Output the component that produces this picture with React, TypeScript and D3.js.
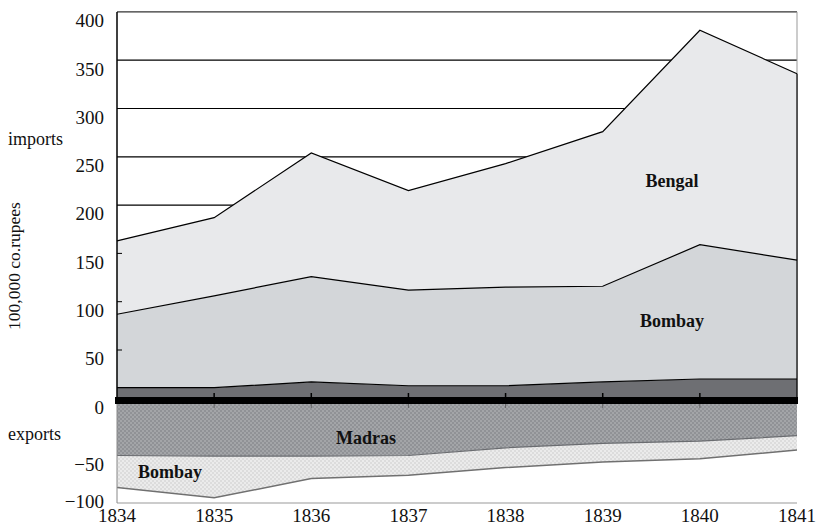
import React from "react";
import * as d3 from "d3";

const years = [1834, 1835, 1836, 1837, 1838, 1839, 1840, 1841];
const importMadras = [11, 11, 17, 13, 13, 17, 20, 20];
const importBombay = [76, 95, 109, 99, 102, 99, 139, 123];
const importBengal = [76, 81, 128, 103, 128, 160, 222, 193];
const exportMadras = [50, 50.5, 50.5, 50, 43, 39, 37, 32];
const exportBombay = [29, 38, 20.5, 18, 18, 17, 16, 13];
const importTicks = [0, 50, 100, 150, 200, 250, 300, 350, 400];
const gridTicks = [200, 250, 300, 350];
const exportTicks = [0, -50, -100];

const W = 818;
const H = 527;
const L = 117;
const R = 797;

export default function App() {
  const x = d3.scaleLinear().domain([1834, 1841]).range([L, R]);
  const yI = d3.scaleLinear().domain([0, 400]).range([398.3, 11.9]);
  const yE = d3.scaleLinear().domain([0, -100]).range([400.5, 510.5]);

  const rows = years.map((yr, i) => ({
    year: yr,
    madras: importMadras[i],
    bombay: importBombay[i],
    bengal: importBengal[i],
  }));
  const stack = d3.stack<any>().keys(["madras", "bombay", "bengal"]);
  const series = stack(rows);
  const area = d3
    .area<any>()
    .x((d) => x(d.data.year))
    .y0((d) => yI(d[0]))
    .y1((d) => yI(d[1]));
  const topLine = d3
    .line<any>()
    .x((d) => x(d.data.year))
    .y((d) => yI(d[1]));
  const fills = ["#6e6f73", "#d3d6d9", "#e8e9eb"];

  const expRows = years.map((yr, i) => ({
    year: yr,
    m: exportMadras[i],
    b: exportMadras[i] + exportBombay[i],
  }));
  const areaEM = d3
    .area<any>()
    .x((d) => x(d.year))
    .y0(() => yE(0))
    .y1((d) => yE(-d.m));
  const areaEB = d3
    .area<any>()
    .x((d) => x(d.year))
    .y0((d) => yE(-d.m))
    .y1((d) => yE(-d.b));
  const lineEM = d3
    .line<any>()
    .x((d) => x(d.year))
    .y((d) => yE(-d.m));
  const lineEB = d3
    .line<any>()
    .x((d) => x(d.year))
    .y((d) => yE(-d.b));

  const font = "'Liberation Serif', 'Times New Roman', serif";
  const tickFs = 19;

  return (
    <div style={{ position: "absolute", left: 0, top: 0 }}>
      <svg width={W} height={H} style={{ display: "block", fontFamily: font }}>
        <defs>
          <pattern id="chkDark" width="4" height="4" patternUnits="userSpaceOnUse">
            <rect width="4" height="4" fill="#909296" />
            <rect width="2" height="2" fill="#a3a5a8" />
            <rect x="2" y="2" width="2" height="2" fill="#a3a5a8" />
          </pattern>
          <pattern id="chkLight" width="4" height="4" patternUnits="userSpaceOnUse">
            <rect width="4" height="4" fill="#ebebeb" />
            <rect width="2" height="2" fill="#dcdcdc" />
            <rect x="2" y="2" width="2" height="2" fill="#dcdcdc" />
          </pattern>
          <clipPath id="expClip">
            <rect x={L} y={404} width={R - L} height={99} />
          </clipPath>
        </defs>
        <rect width={W} height={H} fill="#fff" />

        {/* gridlines */}
        {gridTicks.map((t) => (
          <line key={t} x1={L} x2={R} y1={yI(t)} y2={yI(t)} stroke="#000" strokeWidth={1.2} />
        ))}
        {/* top and right border */}
        <line x1={L} x2={R} y1={yI(400)} y2={yI(400)} stroke="#333" strokeWidth={1.2} />
        <line x1={R} x2={R} y1={yI(400)} y2={yI(0)} stroke="#999" strokeWidth={1} />

        {/* import areas */}
        {series.map((s, i) => (
          <path key={s.key} d={area(s as any) || ""} fill={fills[i]} />
        ))}
        {series.map((s) => (
          <path key={"l" + s.key} d={topLine(s as any) || ""} fill="none" stroke="#000" strokeWidth={1.2} />
        ))}
        <line x1={R} x2={R} y1={yI(d3.sum([importMadras[7], importBombay[7], importBengal[7]]))} y2={yI(0)} stroke="#000" strokeWidth={1.2} />

        {/* inward y ticks */}
        {importTicks.slice(1, 4).map((t) => (
          <line key={"t" + t} x1={L} x2={L + 5} y1={yI(t)} y2={yI(t)} stroke="#000" strokeWidth={1} />
        ))}

        {/* export areas */}
        <g clipPath="url(#expClip)">
          <path d={areaEM(expRows) || ""} fill="url(#chkDark)" />
          <path d={areaEB(expRows) || ""} fill="url(#chkLight)" />
          <path d={lineEM(expRows) || ""} fill="none" stroke="#6a6c70" strokeWidth={1.2} />
          <path d={lineEB(expRows) || ""} fill="none" stroke="#707070" strokeWidth={1.5} />
        </g>
        <line x1={L} x2={R} y1={503} y2={503} stroke="#999" strokeWidth={1} />
        <line x1={L} x2={L} y1={404} y2={503} stroke="#888" strokeWidth={1} />

        {/* zero bar */}
        <rect x={L - 2} y={397} width={R - L + 3} height={7} fill="#000" />
        {years.slice(1, 7).map((yr) => (
          <line key={"xt" + yr} x1={x(yr)} x2={x(yr)} y1={393} y2={397} stroke="#000" strokeWidth={1.5} />
        ))}
        {years.slice(1, 7).map((yr) => (
          <line key={"xb" + yr} x1={x(yr)} x2={x(yr)} y1={404} y2={408} stroke="#555" strokeWidth={0.8} />
        ))}

        {/* left axis */}
        <line x1={L} x2={L} y1={yI(400)} y2={404} stroke="#000" strokeWidth={1.5} />

        {/* y labels */}
        {importTicks.map((t) => (
          <text key={"yl" + t} x={104} y={yI(t) + 11} textAnchor="end" dominantBaseline="middle" fontSize={tickFs} fill="#111">
            {t}
          </text>
        ))}
        {exportTicks.slice(1).map((t) => (
          <text key={"el" + t} x={104} y={Math.min(yE(t) + 11, 504)} textAnchor="end" dominantBaseline="middle" fontSize={tickFs} fill="#111">
            {"\u2212" + Math.abs(t)}
          </text>
        ))}

        {/* x labels */}
        {years.map((yr) => (
          <text key={"xl" + yr} x={x(yr)} y={518} textAnchor="middle" dominantBaseline="middle" fontSize={tickFs} fill="#111">
            {yr}
          </text>
        ))}

        {/* axis titles */}
        <text x={8} y={141} dominantBaseline="middle" fontSize={18} fill="#111">imports</text>
        <text x={8} y={436} dominantBaseline="middle" fontSize={18} fill="#111">exports</text>
        <text
          transform={`translate(16,266) rotate(-90)`}
          textAnchor="middle"
          dominantBaseline="middle"
          fontSize={17.5}
          fill="#111"
        >
          100,000 co.rupees
        </text>

        {/* series labels */}
        <text x={672} y={183} textAnchor="middle" dominantBaseline="middle" fontSize={18} fontWeight="bold" fill="#111">Bengal</text>
        <text x={672} y={323} textAnchor="middle" dominantBaseline="middle" fontSize={18} fontWeight="bold" fill="#111">Bombay</text>
        <text x={366} y={440} textAnchor="middle" dominantBaseline="middle" fontSize={18} fontWeight="bold" fill="#111">Madras</text>
        <text x={170} y={474} textAnchor="middle" dominantBaseline="middle" fontSize={18} fontWeight="bold" fill="#111">Bombay</text>
      </svg>
    </div>
  );
}
